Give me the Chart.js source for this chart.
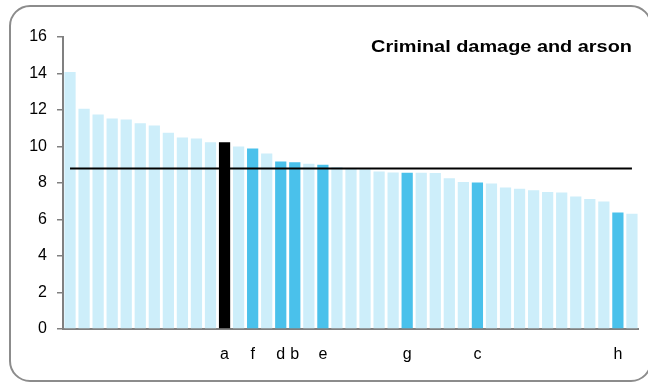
<!DOCTYPE html>
<html>
<head>
<meta charset="utf-8">
<script src="https://cdn.jsdelivr.net/npm/chart.js@4.4.1/dist/chart.umd.min.js"></script>
<style>
    body { margin: 0; background: #fff; }
    #wrap { position: relative; width: 648px; height: 382px; }
</style>
</head>
<body>
<div id="wrap"><canvas id="crime-chart"></canvas></div>
<script>
// area labels (blank = not named on the axis)
const areas = ["", "", "", "", "", "", "", "", "", "", "", "a", "", "f", "", "d", "b", "", "e", "",
               "", "", "", "", "g", "", "", "", "", "c", "", "", "", "", "", "", "", "", "", "h", ""];
const rates = [14.08, 12.07, 11.76, 11.54, 11.48, 11.28, 11.15, 10.75, 10.49, 10.44,
               10.23, 10.23, 10.0, 9.89, 9.62, 9.18, 9.14, 9.05, 9.0, 8.87,
               8.81, 8.76, 8.63, 8.57, 8.56, 8.56, 8.55, 8.26, 8.06, 8.03,
               7.97, 7.75, 7.68, 7.60, 7.51, 7.48, 7.26, 7.13, 6.98, 6.38, 6.31];
const average = 8.8;
const yTicks = [0, 2, 4, 6, 8, 10, 12, 14, 16];
const selected = "a";

const FONT = '"Liberation Sans", Arial, sans-serif';

function barColour(lbl) {
    if (lbl === selected) return "#000000";
    if (lbl !== "") return "#4ac1eb";
    return "#cdeefa";
}

const frame = {
    id: "frame",
    afterDraw(chart) {
        const ctx = chart.ctx;
        ctx.save();
        ctx.strokeStyle = "#8c8c8c";
        ctx.lineWidth = 2;
        ctx.beginPath();
        ctx.roundRect(10, 6, 641, 375, 20);
        ctx.stroke();

        ctx.fillStyle = "#000";
        ctx.font = "bold 17px " + FONT;
        ctx.textAlign = "right";
        ctx.textBaseline = "middle";
        ctx.translate(chart.chartArea.right - 7, 47);
        ctx.scale(1.17, 1);
        ctx.fillText("Criminal damage and arson", 0, 0);
        ctx.restore();
    }
};

new Chart(document.getElementById("crime-chart"), {
    type: "bar",
    data: {
        labels: areas,
        datasets: [
            {
                type: "line",
                label: "Average",
                data: areas.map(() => average),
                borderColor: "#000",
                borderWidth: 2,
                pointRadius: 0,
                fill: false,
                order: 0
            },
            {
                label: "Rate",
                data: rates,
                backgroundColor: areas.map(barColour),
                barPercentage: 0.8,
                categoryPercentage: 1,
                order: 1
            }
        ]
    },
    options: {
        responsive: true,
        maintainAspectRatio: false,
        animation: false,
        layout: { padding: { top: 37, right: 5, left: 0, bottom: 0 } },
        plugins: {
            legend: { display: false },
            tooltip: { enabled: false }
        },
        scales: {
            x: {
                grid: { display: false, drawTicks: false },
                border: { color: "#808080", width: 2 },
                ticks: {
                    autoSkip: false,
                    maxRotation: 0,
                    padding: 16,
                    color: "#000",
                    font: { family: FONT, size: 16 }
                },
                afterFit(scale) { scale.height = 53; }
            },
            y: {
                min: 0,
                max: 16,
                afterBuildTicks(scale) { scale.ticks = yTicks.map(v => ({ value: v })); },
                grid: { drawOnChartArea: false, drawTicks: true, tickLength: 6, color: "#808080", lineWidth: 1.5 },
                border: { color: "#808080", width: 2 },
                ticks: {
                    padding: 10,
                    color: "#000",
                    font: { family: FONT, size: 16 }
                },
                afterFit(scale) { scale.width = 63; }
            }
        }
    },
    plugins: [frame]
});
</script>
</body>
</html>
